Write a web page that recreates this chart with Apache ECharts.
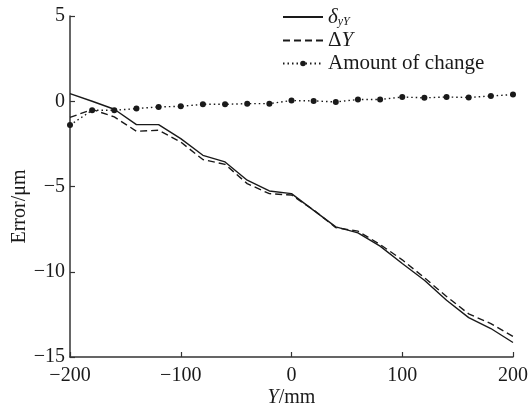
<!DOCTYPE html>
<html>
<head>
<meta charset="utf-8">
<script src="https://cdn.jsdelivr.net/npm/echarts@6/dist/echarts.min.js"></script>
<style>
  html, body { margin: 0; padding: 0; background: #fff; }
  #chart { width: 531px; height: 408px; }
</style>
</head>
<body>
<div id="chart"></div>
<script>
// positions along Y, mm
const yPos = [-200, -180, -160, -140, -120, -100, -80, -60, -40, -20, 0,
              20, 40, 60, 80, 100, 120, 140, 160, 180, 200];
// delta_yY (solid)
const deltaYY = [0.45, 0.0, -0.47, -1.37, -1.37, -2.19, -3.17, -3.56, -4.63, -5.26, -5.42,
                 -6.4, -7.37, -7.72, -8.5, -9.52, -10.5, -11.67, -12.69, -13.33, -14.15];
// Delta Y (dashed)
const deltaY = [-0.95, -0.48, -0.92, -1.76, -1.7, -2.39, -3.42, -3.7, -4.83, -5.42, -5.5,
                -6.38, -7.41, -7.62, -8.4, -9.3, -10.35, -11.45, -12.47, -13.04, -13.8];
// amount of change (dotted with markers)
const change = [-1.4, -0.53, -0.53, -0.43, -0.33, -0.3, -0.18, -0.18, -0.14, -0.14, 0.04,
                0.02, -0.04, 0.1, 0.1, 0.25, 0.2, 0.25, 0.22, 0.31, 0.39];

const xTicks = { min: -200, max: 200, step: 100 };
const yTicks = { min: -15, max: 5, step: 5 };

const pairs = arr => yPos.map((x, i) => [x, arr[i]]);
const minus = v => String(v).replace('-', '\u2212');

const font = 'Liberation Serif';
const ink = '#1a1a1a';
const fs = 20;

const chart = echarts.init(document.getElementById('chart'));

chart.setOption({
  animation: false,
  textStyle: { fontFamily: font },
  grid: { left: 70, right: 18, top: 16, bottom: 51, containLabel: false, outerBoundsMode: 'none' },
  legend: {
    orient: 'vertical',
    left: 277,
    top: 1,
    itemWidth: 40,
    itemHeight: 7,
    itemGap: 2,
    data: [
      { name: 'dyY', itemStyle: { opacity: 0 } },
      { name: 'dY', itemStyle: { opacity: 0 } },
      { name: 'Amount of change' }
    ],
    textStyle: {
      fontFamily: font, fontSize: 21, color: ink, lineHeight: 21,
      rich: {
        it: { fontFamily: font, fontSize: 21, fontStyle: 'italic', color: ink, lineHeight: 21 },
        sub: { fontFamily: font, fontSize: 12, fontStyle: 'italic', color: ink, lineHeight: 21, padding: [10, 0, 0, 0] },
        n: { fontFamily: font, fontSize: 21, color: ink, lineHeight: 21 }
      }
    },
    formatter: name => {
      if (name === 'dyY') return '{it|\u03b4}{sub|yY}';
      if (name === 'dY') return '{n|\u0394}{it|Y}';
      return name;
    }
  },
  xAxis: {
    type: 'value',
    min: xTicks.min, max: xTicks.max, interval: xTicks.step,
    name: '{it|Y}{n|/mm}',
    nameLocation: 'middle',
    nameGap: 31,
    nameMoveOverlap: false,
    nameTextStyle: {
      rich: {
        it: { fontFamily: font, fontSize: fs, fontStyle: 'italic', color: ink },
        n: { fontFamily: font, fontSize: fs, color: ink }
      }
    },
    axisLine: { onZero: false, lineStyle: { color: '#333', width: 1.5 } },
    axisTick: { inside: true, length: 5, lineStyle: { color: '#333', width: 1.2 } },
    axisLabel: { fontFamily: font, fontSize: fs, color: ink, margin: 9, formatter: minus },
    splitLine: { show: false }
  },
  yAxis: {
    type: 'value',
    min: yTicks.min, max: yTicks.max, interval: yTicks.step,
    name: 'Error/\u03bcm',
    nameLocation: 'middle',
    nameGap: 40,
    nameMoveOverlap: false,
    nameTextStyle: { fontFamily: font, fontSize: fs, color: ink, padding: [0, 40, 0, 0] },
    axisLine: { show: true, onZero: false, lineStyle: { color: '#333', width: 1.5 } },
    axisTick: { show: true, inside: true, length: 5, lineStyle: { color: '#333', width: 1.2 } },
    axisLabel: { fontFamily: font, fontSize: fs, color: ink, margin: 5, formatter: minus },
    splitLine: { show: false }
  },
  series: [
    {
      name: 'dyY',
      type: 'line',
      data: pairs(deltaYY),
      symbol: 'none',
      itemStyle: { color: ink },
      lineStyle: { color: ink, width: 1.4, type: 'solid' }
    },
    {
      name: 'dY',
      type: 'line',
      data: pairs(deltaY),
      symbol: 'none',
      itemStyle: { color: ink },
      lineStyle: { color: ink, width: 1.4, type: [7, 4] }
    },
    {
      name: 'Amount of change',
      type: 'line',
      data: pairs(change),
      symbol: 'circle',
      symbolSize: 6,
      itemStyle: { color: ink },
      lineStyle: { color: ink, width: 1.4, type: [1.5, 3] }
    }
  ]
});
</script>
</body>
</html>
